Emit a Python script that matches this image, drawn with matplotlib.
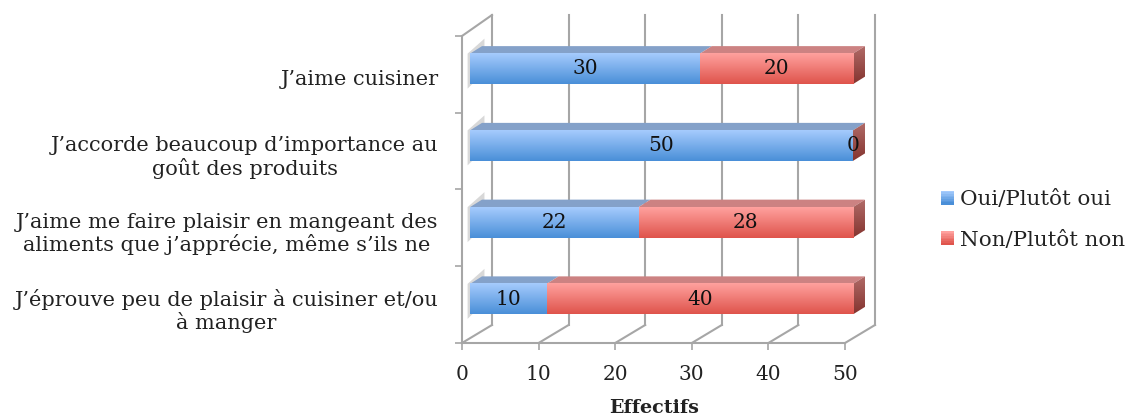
import matplotlib
matplotlib.use("Agg")
import matplotlib.pyplot as plt
import numpy as np
from matplotlib.colors import LinearSegmentedColormap
from matplotlib.legend_handler import HandlerBase
from matplotlib.patches import Patch, Polygon, Rectangle

categories = [
    "J’aime cuisiner",
    "J’accorde beaucoup d’importance au\ngoût des produits",
    "J’aime me faire plaisir en mangeant des\naliments que j’apprécie, même s’ils ne",
    "J’éprouve peu de plaisir à cuisiner et/ou\nà manger",
]
oui = [30, 50, 22, 10]
non = [20, 0, 28, 40]
x_ticks = [0, 10, 20, 30, 40, 50]
series_names = ["Oui/Plutôt oui", "Non/Plutôt non"]

FONT = "DejaVu Serif"
GRID = "#a6a6a6"
BLUE = ("#a5cbfd", "#4a8fd8", "#84a1c9")
RED = ("#ffa19e", "#df544c", "#cc8282")
SIDE_TOP, SIDE_BOTTOM = "#b06a67", "#84342f"

W, H = 1128, 419
# scale of the plot box in pixels
x0, x1, y_top, y_bot = 462, 845, 36, 343
px = 50 / (x1 - x0)
py = 4 / (y_bot - y_top)

# 3d offsets, in data units
wall_dx, wall_dy = 30 * px, 18 * py
wall_top = -21 * py
bar_dx, bar_dy = 8 * px, 5.5 * py
face_dx, face_dy = 12 * px, 7.5 * py
bar_h = 30.5 * py

fig = plt.figure(figsize=(W / 100, H / 100), dpi=100)
ax = fig.add_axes([x0 / W, 1 - y_bot / H, (x1 - x0) / W, (y_bot - y_top) / H])

# walls and grid
for t in x_ticks:
    ax.plot([t + wall_dx, t + wall_dx], [wall_top, 4 - wall_dy], color=GRID, lw=1.5, clip_on=False, zorder=1)
    ax.plot([t, t + wall_dx], [4, 4 - wall_dy], color=GRID, lw=1.5, clip_on=False, zorder=1)
ax.plot([0, wall_dx], [0, wall_top], color=GRID, lw=1.5, clip_on=False, zorder=1)

pos = np.arange(len(categories)) + 0.5 - bar_dy
left = np.array(oui) * 0 + bar_dx
bars_a = ax.barh(pos, oui, height=bar_h, left=left, color=BLUE[1], zorder=3, clip_on=False)
bars_b = ax.barh(pos, non, height=bar_h, left=left + np.array(oui), color=RED[1], zorder=3, clip_on=False)


def gradient(top, bottom):
    return LinearSegmentedColormap.from_list("g", [top, bottom])


grad = np.linspace(0, 1, 64).reshape(-1, 1)
for bars, cols in ((bars_a, BLUE), (bars_b, RED)):
    cmap = gradient(cols[0], cols[1])
    for b in bars:
        l, r, t, btm = b.get_x(), b.get_x() + b.get_width(), b.get_y(), b.get_y() + b.get_height()
        if r - l > 0:
            im = ax.imshow(grad, cmap=cmap, extent=(l, r, btm, t), aspect="auto", zorder=4)
            im.set_clip_on(False)
            ax.add_patch(Polygon([(l, t), (r, t), (r + face_dx, t - face_dy), (l + face_dx, t - face_dy)],
                                 color=cols[2], lw=0, clip_on=False, zorder=3))

# bar ends and the soft shadow on the left wall
side_cmap = gradient(SIDE_TOP, SIDE_BOTTOM)
for b in bars_b:
    r, t, btm = b.get_x() + b.get_width(), b.get_y(), b.get_y() + b.get_height()
    side = Polygon([(r, t), (r + face_dx, t - face_dy), (r + face_dx, btm - face_dy), (r, btm)],
                   transform=ax.transData)
    im = ax.imshow(grad, cmap=side_cmap, extent=(r, r + face_dx, btm, t - face_dy), aspect="auto", zorder=3)
    im.set_clip_box(fig.bbox)
    im.set_clip_path(side)
    ax.add_patch(Polygon([(bar_dx * 0.7, t), (bar_dx * 0.7 + 2.2, t - 2 * face_dy),
                          (bar_dx * 0.7 + 2.2, btm - 1.6 * face_dy), (bar_dx * 0.7, btm + 0.6 * face_dy)],
                         color="#d8d8d8", lw=0, clip_on=False, zorder=2))

# value labels
for i in range(len(categories)):
    ax.text(left[i] + oui[i] / 2, pos[i], str(oui[i]), ha="center", va="center",
            family=FONT, fontsize=14.5, color="#111111", zorder=6)
    ax.text(left[i] + oui[i] + non[i] / 2, pos[i], str(non[i]), ha="center", va="center",
            family=FONT, fontsize=14.5, color="#111111", zorder=6)

ax.set_xlim(0, 50)
ax.set_ylim(4, 0)
ax.set_xticks(x_ticks)
ax.set_yticks(range(5))
ax.set_yticklabels([])
ax.set_yticks(np.arange(len(categories)) + 0.5 + 3 * py, minor=True)
ax.set_yticklabels(categories, minor=True, family=FONT, fontsize=15, color="#222222",
                   multialignment="center", linespacing=1.15)
ax.tick_params(axis="y", which="minor", length=0, pad=17)
ax.tick_params(axis="both", which="major", length=5, width=1.2, color=GRID)
ax.tick_params(axis="x", labelsize=14.5, pad=10.5, labelcolor="#222222")
for lab in ax.get_xticklabels():
    lab.set_family(FONT)
ax.set_xlabel("Effectifs", family=FONT, fontsize=13.8, fontweight="bold", color="#222222")
ax.xaxis.set_label_coords((654 - x0) / (x1 - x0), -(408 - y_bot) / (y_bot - y_top))
ax.xaxis.label.set_va("center")
for s in ("top", "right"):
    ax.spines[s].set_visible(False)
for s in ("left", "bottom"):
    ax.spines[s].set_color(GRID)
    ax.spines[s].set_linewidth(1.5)


class GradientSwatch(HandlerBase):
    def create_artists(self, legend, orig, xd, yd, width, height, fontsize, trans):
        top, bottom = orig.get_gid().split(",")
        cmap = gradient(top, bottom)
        n = 8
        return [Rectangle((-xd, -yd + height * (n - 1 - k) / n), width, height / n + 0.3,
                          color=cmap(k / (n - 1)), lw=0, transform=trans) for k in range(n)]


handles = [Patch(gid=f"{BLUE[0]},{BLUE[1]}"), Patch(gid=f"{RED[0]},{RED[1]}")]
fig.legend(handles, series_names, handler_map={Patch: GradientSwatch()},
           loc="center left", bbox_to_anchor=(941 / W, 1 - 220 / H), frameon=False,
           prop={"family": FONT, "size": 15.4}, labelcolor="#222222",
           handlelength=0.6, handleheight=0.6, handletextpad=0.28, labelspacing=1.0,
           borderaxespad=0, borderpad=0)

fig.savefig("out.png", dpi=100)
